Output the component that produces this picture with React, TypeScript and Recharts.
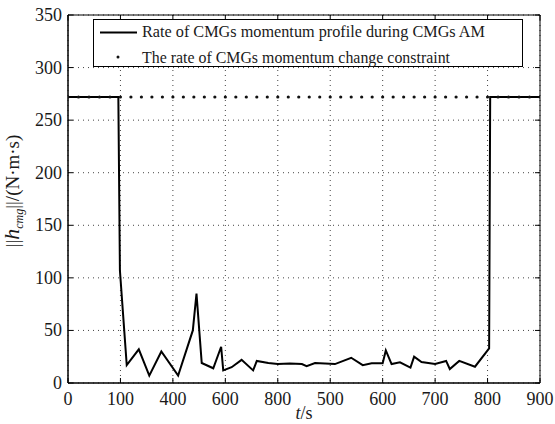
import React from 'react';
import { LineChart, Line, XAxis, YAxis, CartesianGrid, Legend, ReferenceArea } from 'recharts';

// ---- data ----
const profileTime = [0, 96, 99, 112, 135, 155, 178, 210, 238, 245, 255, 277, 292, 296, 312, 331, 353, 360, 382, 400, 423, 446, 455, 471, 509, 540, 562, 579, 600, 606, 617, 633, 653, 660, 674, 700, 721, 728, 746, 776, 803, 805, 900];
const profileRate = [272, 272, 107, 17, 32, 7, 30, 7, 50, 85, 19, 14, 34.5, 12, 15, 22, 12, 21, 19, 18, 18.5, 18, 16, 19, 18, 24, 17, 18.7, 18.7, 31, 18, 19.7, 14.6, 25, 20, 18, 21, 13.3, 21, 15.5, 33, 272, 272];

const constraintTime = [0, 20, 40, 60, 80, 100, 120, 140, 160, 180, 200, 220, 240, 260, 280, 300, 320, 340, 360, 380, 400, 420, 440, 460, 480, 500, 520, 540, 560, 580, 600, 620, 640, 660, 680, 700, 720, 740, 760, 780, 800, 820, 840, 860, 880, 900];
const constraintRate = [272, 272, 272, 272, 272, 272, 272, 272, 272, 272, 272, 272, 272, 272, 272, 272, 272, 272, 272, 272, 272, 272, 272, 272, 272, 272, 272, 272, 272, 272, 272, 272, 272, 272, 272, 272, 272, 272, 272, 272, 272, 272, 272, 272, 272, 272];

const seriesNames = [
  'Rate of CMGs momentum profile during CMGs AM',
  'The rate of CMGs momentum change constraint',
];

const xTicks = [0, 100, 200, 300, 400, 500, 600, 700, 800, 900];
const xTickLabels = ['0', '100', '400', '600', '800', '500', '600', '700', '800', '900'];
const yTicks = [0, 50, 100, 150, 200, 250, 300, 350];
const yTickLabels = ['0', '50', '100', '150', '200', '250', '300', '350'];

const profileData = profileTime.map((t, i) => ({ t, rate: profileRate[i] }));
const constraintData = constraintTime.map((t, i) => ({ t, rate: constraintRate[i] }));

// ---- style ----
const FONT = "'Liberation Serif', 'Times New Roman', Times, serif";
const TXT: React.CSSProperties = { fontFamily: FONT };
const W = 555;
const H = 424;
const PLOT_TOP = 15;
const PLOT_RIGHT = 540;
const TICK_LEN = 5;
const TEXT = '#1a1a1a';

const XTick = (props: any) => {
  const { x, y, payload } = props;
  const i = xTicks.indexOf(payload.value);
  return (
    <g>
      <line x1={x} y1={y} x2={x} y2={y - TICK_LEN} stroke="#000" />
      <line x1={x} y1={PLOT_TOP} x2={x} y2={PLOT_TOP + TICK_LEN} stroke="#000" />
      <text x={x} y={y + 22} textAnchor="middle" style={TXT} fontSize={18} fill={TEXT}>
        {xTickLabels[i]}
      </text>
    </g>
  );
};

const YTick = (props: any) => {
  const { x, y, payload } = props;
  const i = yTicks.indexOf(payload.value);
  return (
    <g>
      <line x1={x} y1={y} x2={x + TICK_LEN} y2={y} stroke="#000" />
      <line x1={PLOT_RIGHT} y1={y} x2={PLOT_RIGHT - TICK_LEN} y2={y} stroke="#000" />
      <text x={x - 6} y={y + 6} textAnchor="end" style={TXT} fontSize={18} fill={TEXT}>
        {yTickLabels[i]}
      </text>
    </g>
  );
};

const YLabel = (props: any) => {
  const vb = props.viewBox || { x: 0, y: PLOT_TOP, width: 68, height: 368 };
  const cx = vb.x + 19;
  const cy = vb.y + vb.height / 2 - 8;
  return (
    <text
      x={cx}
      y={cy}
      transform={`rotate(-90, ${cx}, ${cy})`}
      textAnchor="middle"
      style={TXT}
      fontSize={19}
      fill={TEXT}
    >
      <tspan>||</tspan>
      <tspan fontStyle="italic" fontSize={22}>h</tspan>
      <tspan fontStyle="italic" fontSize={12} dy={4}>cmg</tspan>
      <tspan dy={-4}>||/(N·m·s)</tspan>
    </text>
  );
};

const XLabel = (props: any) => {
  const vb = props.viewBox || { x: 68, y: 383, width: 472, height: 41 };
  const cx = vb.x + vb.width / 2;
  return (
    <text x={cx} y={vb.y + 36} textAnchor="middle" style={TXT} fontSize={18} fill={TEXT}>
      <tspan fontStyle="italic">t</tspan>
      <tspan>/s</tspan>
    </text>
  );
};

const LegendBox = () => (
  <svg width={431} height={49} style={{ display: 'block' }}>
    <rect x={0.5} y={0.5} width={429} height={47} fill="#fff" stroke="#000" strokeWidth={1} />
    <line x1={7} y1={13.5} x2={44} y2={13.5} stroke="#000" strokeWidth={2} />
    <text x={49} y={18} style={TXT} fontSize={17} fill={TEXT} textLength={343} lengthAdjust="spacingAndGlyphs">
      {seriesNames[0]}
    </text>
    <circle cx={25} cy={38} r={1.5} fill="#111" />
    <text x={49} y={43.5} style={TXT} fontSize={17} fill={TEXT} textLength={308} lengthAdjust="spacingAndGlyphs">
      {seriesNames[1]}
    </text>
  </svg>
);

export default function App() {
  return (
    <div style={{ position: 'absolute', left: 0, top: 0, width: W, height: H, background: '#fff', fontFamily: FONT }}>
      <LineChart width={W} height={H} margin={{ top: PLOT_TOP, right: W - PLOT_RIGHT, bottom: 0, left: 0 }} style={{ fontFamily: FONT }}>
        <CartesianGrid stroke="#444" strokeDasharray="1 4" />
        <XAxis
          dataKey="t"
          type="number"
          domain={[0, 900]}
          ticks={xTicks}
          allowDataOverflow
          height={41}
          tickSize={0}
          tickMargin={0}
          tick={<XTick />}
          axisLine={{ stroke: '#000' }}
          label={<XLabel />}
        />
        <YAxis
          type="number"
          domain={[0, 350]}
          ticks={yTicks}
          allowDataOverflow
          width={68}
          tickSize={0}
          tickMargin={0}
          tick={<YTick />}
          axisLine={{ stroke: '#000' }}
          label={<YLabel />}
        />
        <ReferenceArea x1={0} x2={900} y1={0} y2={350} fill="none" stroke="#000" strokeWidth={1} />
        <Line
          data={profileData}
          dataKey="rate"
          name={seriesNames[0]}
          stroke="#000"
          strokeWidth={2}
          dot={false}
          activeDot={false}
          isAnimationActive={false}
        />
        <Line
          data={constraintData}
          dataKey="rate"
          name={seriesNames[1]}
          stroke="none"
          strokeWidth={0}
          dot={{ r: 1.6, fill: '#111', stroke: 'none' }}
          activeDot={false}
          isAnimationActive={false}
        />
        <Legend
          layout="horizontal"
          verticalAlign="middle"
          align="center"
          wrapperStyle={{ left: 93, top: 19, width: 431, height: 49 }}
          content={<LegendBox />}
        />
      </LineChart>
    </div>
  );
}
